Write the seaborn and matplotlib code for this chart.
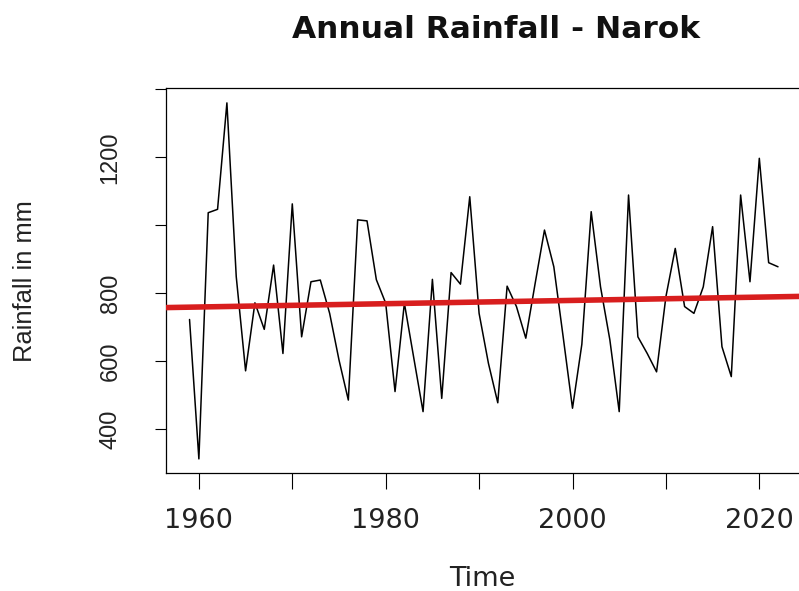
import matplotlib
matplotlib.use("Agg")
import matplotlib.pyplot as plt
import seaborn as sns
import pandas as pd

years = list(range(1959, 2023))
rainfall = [723, 313, 1037, 1047, 1360, 849, 572, 772, 694, 883,
            623, 1063, 672, 834, 839, 741, 604, 486, 1016, 1013,
            840, 771, 511, 771, 611, 452, 841, 491, 861, 827,
            1084, 741, 594, 478, 821, 761, 668, 829, 986, 878,
            672, 462, 650, 1040, 819, 663, 452, 1089, 672, 623,
            569, 790, 932, 761, 741, 819, 996, 643, 555, 1089,
            834, 1197, 890, 878]
trend_years = [1956.48, 2024.57]
trend_values = [758, 791]

x_ticks = [1960, 1970, 1980, 1990, 2000, 2010, 2020]
x_labels = ["1960", "", "1980", "", "2000", "", "2020"]
y_ticks = [400, 600, 800, 1000, 1200, 1400]
y_labels = ["400", "600", "800", "", "1200", ""]

title = "Annual Rainfall - Narok"
xlabel = "Time"
ylabel = "Rainfall in mm"

sns.set_style("white")

W, H = 799, 591
fig = plt.figure(figsize=(W / 100, H / 100), dpi=100)
fig.patch.set_facecolor("white")
left, right, top, bottom = 166, 802, 88, 473
ax = fig.add_axes([left / W, (H - bottom) / H, (right - left) / W, (bottom - top) / H])

df = pd.DataFrame({"year": years, "rain": rainfall})
tdf = pd.DataFrame({"year": trend_years, "rain": trend_values})
sns.lineplot(data=df, x="year", y="rain", ax=ax, color="black", linewidth=1.1, zorder=2)
sns.lineplot(data=tdf, x="year", y="rain", ax=ax, color="#d81e1e", linewidth=4.0, zorder=3)

ax.set_xlim(1956.48, 2024.57)
ax.set_ylim(271.5, 1403.8)

for name, s in ax.spines.items():
    s.set_visible(name != "right")
    s.set_color("black")
    s.set_linewidth(0.9)

ax.set_xticks(x_ticks)
ax.set_xticklabels(x_labels, fontfamily="DejaVu Sans", fontsize=19.5, color="#222222")
ax.set_yticks(y_ticks)
ax.set_yticklabels(y_labels, fontfamily="Liberation Sans", fontsize=17, color="#222222")
for lbl in ax.get_yticklabels():
    lbl.set_rotation(90)
    lbl.set_va("center")
ax.tick_params(axis="x", direction="out", length=11.5, width=0.8, color="black", pad=14, bottom=True)
ax.tick_params(axis="y", direction="out", length=8, width=0.8, color="black", pad=24, left=True)

ax.set_xlabel(xlabel, fontfamily="DejaVu Sans", fontsize=19.5, color="#222222")
ax.set_ylabel(ylabel, fontfamily="Liberation Sans", fontsize=18.4, color="#222222")
ax.xaxis.set_label_coords((482 - left) / (right - left), (bottom - 579) / (bottom - top))
ax.xaxis.label.set_va("center")
ax.yaxis.set_label_coords((25 - left) / (right - left), (bottom - 281.5) / (bottom - top))
ax.yaxis.label.set_va("center")

fig.text(496.5 / W, 1 - 29 / H, title, ha="center", va="center",
         fontfamily="DejaVu Sans", fontweight="bold", fontsize=22.5, color="#111111")

fig.savefig("out.png", dpi=100, facecolor="white")
